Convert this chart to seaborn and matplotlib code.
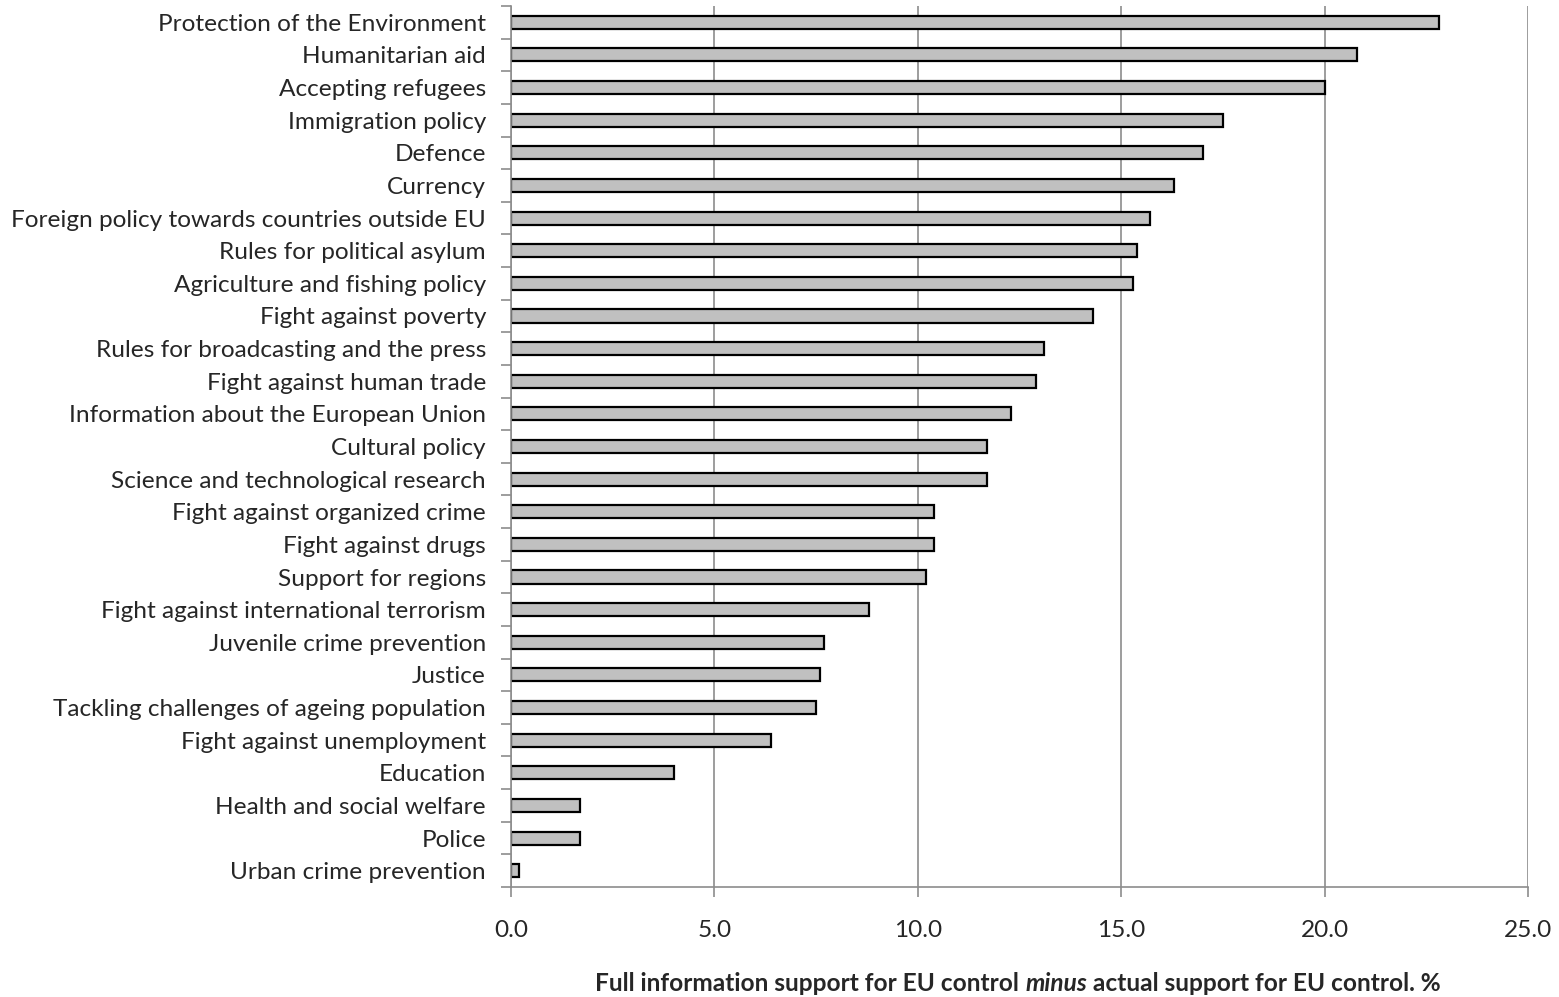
import matplotlib
matplotlib.use("Agg")
import matplotlib.pyplot as plt
import seaborn as sns
import pandas as pd
import numpy as np

categories = [
    "Protection of the Environment",
    "Humanitarian aid",
    "Accepting refugees",
    "Immigration policy",
    "Defence",
    "Currency",
    "Foreign policy towards countries outside EU",
    "Rules for political asylum",
    "Agriculture and fishing policy",
    "Fight against poverty",
    "Rules for broadcasting and the press",
    "Fight against human trade",
    "Information about the European Union",
    "Cultural policy",
    "Science and technological research",
    "Fight against organized crime",
    "Fight against drugs",
    "Support for regions",
    "Fight against international terrorism",
    "Juvenile crime prevention",
    "Justice",
    "Tackling challenges of ageing population",
    "Fight against unemployment",
    "Education",
    "Health and social welfare",
    "Police",
    "Urban crime prevention",
]
values = [22.8, 20.8, 20.0, 17.5, 17.0, 16.3, 15.7, 15.4, 15.3, 14.3,
          13.1, 12.9, 12.3, 11.7, 11.7, 10.4, 10.4, 10.2, 8.8, 7.7,
          7.6, 7.5, 6.4, 4.0, 1.7, 1.7, 0.2]
x_ticks = [0, 5, 10, 15, 20, 25]

sns.set_style("white")
plt.rcParams["font.family"] = ["Lato", "DejaVu Sans"]

FS = 17.6

df = pd.DataFrame({"topic": categories, "diff": values})

fig = plt.figure(figsize=(15.59, 9.97), dpi=100)
ax = fig.add_axes([511 / 1559, 1 - 887 / 997, (1528 - 511) / 1559, (887 - 6) / 997])

sns.barplot(data=df, y="topic", x="diff", orient="h", color="#C0C0C0",
            saturation=1, edgecolor="black", linewidth=1.6, width=0.4, ax=ax)

grey = "#8C8C8C"
ax.set_xlim(0, 25)
ax.set_ylim(len(categories) - 0.5, -0.5)
ax.set_xticks(x_ticks)
ax.set_xticklabels([f"{t:.1f}" for t in x_ticks], fontsize=FS)
ax.tick_params(axis="x", bottom=True, length=7, width=1.2, color=grey,
               direction="out", pad=17)
ax.xaxis.grid(True, color=grey, linewidth=1.2)
ax.set_axisbelow(True)

ax.tick_params(axis="y", which="major", left=True, length=0, labelsize=FS, pad=18)
ax.set_yticks(np.arange(len(categories) + 1) - 0.5, minor=True)
ax.tick_params(axis="y", which="minor", left=True, length=7, width=1.2,
               color=grey, direction="out")

for side in ["top", "right"]:
    ax.spines[side].set_visible(False)
for side in ["left", "bottom"]:
    ax.spines[side].set_color(grey)
    ax.spines[side].set_linewidth(1.2)

ax.set_xlabel("")
ax.set_ylabel("")

# Axis title with an italic word in the middle, assembled piece by piece
parts = [("Full information support for EU control ", "normal"),
         ("minus", "italic"),
         (" actual support for EU control. %", "normal")]
fig.canvas.draw()
renderer = fig.canvas.get_renderer()
texts = []
for s, style in parts:
    t = fig.text(0, 0, s, fontsize=FS, fontweight="bold", style=style,
                 va="center", ha="left")
    texts.append(t)
widths = [t.get_window_extent(renderer).width for t in texts]
total = sum(widths)
x0 = 1018 - total / 2
y_pix = 997 - 983
for t, w in zip(texts, widths):
    t.set_position((x0 / 1559, y_pix / 997))
    x0 += w

fig.savefig("out.png", dpi=100, facecolor="white")
